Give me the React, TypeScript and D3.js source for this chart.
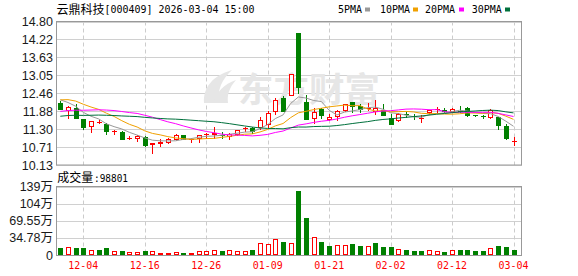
import React from 'react';
import * as d3 from 'd3';

const dates = [
  '12-01','12-02','12-03','12-04','12-05','12-08','12-09','12-10','12-11','12-12',
  '12-15','12-16','12-17','12-18','12-19','12-22','12-23','12-24','12-25','12-26',
  '12-29','12-30','12-31','01-05','01-06','01-07','01-08','01-09','01-12','01-13',
  '01-14','01-15','01-16','01-19','01-20','01-21','01-22','01-23','01-26','01-27',
  '01-28','01-29','01-30','02-02','02-03','02-04','02-05','02-06','02-09','02-10',
  '02-11','02-12','02-13','02-24','02-25','02-26','02-27','03-02','03-03','03-04'
];
const opens = [
  12.16,11.91,12.00,11.62,11.41,11.51,11.46,11.21,11.22,10.98,
  11.02,11.03,10.81,10.82,10.87,10.98,11.10,10.98,11.00,11.12,
  11.11,11.12,11.07,11.14,11.31,11.33,11.38,11.46,11.88,12.32,
  12.42,14.41,12.18,11.64,11.94,11.61,11.72,11.91,12.18,12.05,
  11.96,11.87,11.91,11.66,11.60,11.79,11.73,11.65,11.84,11.94,
  11.92,11.87,11.90,11.99,11.75,11.72,11.69,11.68,11.40,10.88
];
const highs = [
  12.22,12.06,12.11,11.64,11.57,11.58,11.51,11.26,11.23,11.08,
  11.11,11.09,10.86,10.96,11.02,11.14,11.11,11.02,11.10,11.18,
  11.36,11.22,11.16,11.28,11.37,11.36,11.69,11.88,12.31,12.39,
  13.10,14.41,12.40,11.99,11.99,11.79,11.92,12.13,12.18,12.11,
  12.14,12.25,12.11,11.79,11.83,11.84,11.78,11.76,11.92,12.01,
  11.99,11.99,12.05,12.02,11.77,11.76,11.95,11.70,11.47,11.03
];
const lows = [
  11.94,11.67,11.68,11.31,11.22,11.50,11.15,11.15,10.96,10.97,
  10.91,10.76,10.53,10.75,10.84,10.94,10.97,10.89,10.87,11.02,
  11.02,11.00,10.97,11.12,11.24,11.18,11.30,11.38,11.80,11.89,
  12.40,12.48,11.64,11.50,11.67,11.59,11.59,11.90,11.87,11.85,
  11.92,11.79,11.75,11.47,11.55,11.69,11.63,11.52,11.78,11.85,
  11.85,11.84,11.86,11.73,11.72,11.67,11.67,11.31,10.96,10.78
];
const closes = [
  11.96,12.02,11.69,11.35,11.56,11.53,11.22,11.23,10.98,11.00,
  11.09,10.76,10.86,10.88,10.98,11.11,10.98,10.99,11.10,11.14,
  11.16,11.10,11.15,11.27,11.32,11.22,11.60,11.82,12.25,11.91,
  13.10,12.64,11.64,11.85,11.74,11.68,11.88,12.11,12.04,11.95,
  12.00,11.98,11.75,11.48,11.80,11.75,11.71,11.67,11.91,11.96,
  11.87,11.94,11.88,11.77,11.74,11.70,11.91,11.43,11.00,10.91
];
// volume in 万 (10,000 shares)
const volumes = [
  14.3,16.3,14.3,14.3,10.5,10.5,14.0,8.1,8.1,5.8,
  5.8,8.1,8.1,4.1,4.1,6.1,4.1,4.1,8.1,8.1,
  10.2,8.1,10.2,8.1,8.1,10.5,24.1,22.0,32.3,26.9,
  24.1,130.4,76.0,36.7,26.9,18.6,20.0,20.0,22.4,18.3,
  18.3,24.4,16.3,16.3,12.2,10.2,8.1,8.1,9.8,7.8,
  6.1,9.8,10.2,10.2,8.1,8.1,13.8,18.3,16.3,9.8801
];
// closes of the 29 sessions before the window (needed for the moving averages)
const priorCloses = [
  11.30,11.45,11.50,11.40,11.35,11.42,11.48,11.38,11.32,11.40,
  11.50,11.45,11.38,11.42,11.36,11.40,11.55,11.60,11.70,11.64,
  11.95,12.15,12.40,12.45,12.30,12.45,12.30,12.35,12.19
];
const priceTicks = [14.80,14.22,13.63,13.05,12.46,11.88,11.30,10.71,10.13];
const priceTickLabels = ['14.80','14.22','13.63','13.05','12.46','11.88','11.30','10.71','10.13'];
const volTicks = [139.12,104.34,69.56,34.78,0];
const volTickLabels = ['139万','104万','69.55万','34.78万','0'];
const tickDates = ['12-04','12-16','12-26','01-09','01-21','02-02','02-12','03-04'];
const maPeriods = [5,10,20,30];
const maNames = ['5PMA','10PMA','20PMA','30PMA'];
const lastVolumeText = '98801';

const RED = '#ff0000';
const GREEN = '#008000';
const MA_COLORS = ['#999999','#f0a000','#ff00ff','#00703c'];
const MONO = '"DejaVu Sans Mono", "Liberation Mono", monospace';
const CJK = '"Noto Sans CJK SC", sans-serif';
const SANS = '"Liberation Sans", Arial, "Noto Sans CJK SC", sans-serif';

export default function App() {
  const W = 578, H = 276;
  const L = 56, R = 522, T = 21.5, B = 165, VT = 186.5, VB = 255;
  const x = d3.scalePoint<string>().domain(dates).range([60.3, 513.5]);
  const y = d3.scaleLinear().domain([10.13, 14.80]).range([B, T]);
  const yv = d3.scaleLinear().domain([0, 139.12]).range([VB, VT]);
  const all = priorCloses.concat(closes);
  const off = priorCloses.length;
  const mas = maPeriods.map(n => closes.map((_, i) => d3.mean(all.slice(i + off - n + 1, i + off + 1)) as number));
  const line = d3.line<number>().x((_, i) => x(dates[i]) as number).y(d => y(d));
  const crisp = (v: number) => Math.round(v) + 0.5;
  const legendX = [338, 380, 425, 471.7];
  const legendSq = [365, 413, 459, 505];

  return (
    <svg width={W} height={H} style={{ position: 'absolute', left: 0, top: 0, background: '#fff' }}>
      <rect x={0} y={0} width={W} height={H} fill="#fff" />
      {/* title */}
      <text x={56.5} y={13.5} fontFamily={CJK} fontSize={12} fill="#000">云鼎科技</text>
      <text x={104.5} y={13} fontFamily={MONO} fontSize={10.5} fill="#000" textLength={150} lengthAdjust="spacingAndGlyphs">[000409] 2026-03-04 15:00</text>
      {maNames.map((n, k) => (
        <g key={n}>
          <text x={legendX[k]} y={13} fontFamily={MONO} fontSize={10.5} fill="#000" textLength={n.length * 6} lengthAdjust="spacingAndGlyphs">{n}</text>
          <rect x={legendSq[k]} y={7.5} width={5} height={4} fill={MA_COLORS[k]} />
        </g>
      ))}

      {/* price grid */}
      {priceTicks.map((t, k) => (
        <line key={'pg' + k} x1={L} x2={R} y1={crisp(y(t))} y2={crisp(y(t))} stroke="#d0d0d0" />
      ))}
      {tickDates.map(d => (
        <line key={'pv' + d} x1={crisp(x(d) as number)} x2={crisp(x(d) as number)} y1={T} y2={B} stroke="#cccccc" strokeDasharray="4,3" />
      ))}
      {/* watermark */}
      <g fill="#e6e6e6">
        <path d="M204,103 C203,88 212,76 232,70 C222,79 217,90 219,103 Z" />
        <path d="M214,103 C216,92 224,84 236,80 C229,88 227,95 228,103 Z" />
        <text x={238} y={102} fontFamily={CJK} fontSize={34} fontWeight="bold" textLength={142} lengthAdjust="spacingAndGlyphs">东方财富</text>
      </g>
      {priceTicks.map((t, k) => (
        <text key={'pl' + k} x={53} y={y(t)} dy="0.36em" textAnchor="end" fontFamily={SANS} fontSize={12.5} fill="#1a1a1a">{priceTickLabels[k]}</text>
      ))}

      {/* candles */}
      {dates.map((d, i) => {
        const cx = Math.round(x(d) as number);
        const up = closes[i] >= opens[i];
        const color = up ? RED : GREEN;
        const top = y(Math.max(opens[i], closes[i]));
        const bot = y(Math.min(opens[i], closes[i]));
        const h = bot - top;
        return (
          <g key={'c' + i}>
            <line x1={cx + 0.5} x2={cx + 0.5} y1={Math.round(y(highs[i]))} y2={Math.round(y(lows[i])) + 1} stroke={color} />
            {h < 2 ? (
              <rect x={cx - 2} y={Math.round(top)} width={5} height={Math.max(1, Math.round(h))} fill={color} />
            ) : up ? (
              <rect x={cx - 1.5} y={Math.round(top) + 0.5} width={4} height={Math.round(h) - 1 + 1} fill="#fff" stroke={color} />
            ) : (
              <rect x={cx - 2} y={Math.round(top)} width={5} height={Math.round(h) + 1} fill={color} />
            )}
          </g>
        );
      })}
      {/* moving averages */}
      {mas.map((m, k) => (
        <path key={'ma' + k} d={line(m) as string} fill="none" stroke={MA_COLORS[k]} strokeWidth={1} />
      ))}
      {/* price frame */}
      <rect x={L + 0.5} y={T} width={R - L - 1} height={B - T} fill="none" stroke="#999" />

      {/* volume panel */}
      <text x={57.3} y={182} fontFamily={CJK} fontSize={12} fill="#000">成交量</text>
      <text x={94} y={181.5} fontFamily={MONO} fontSize={10.5} fill="#000" textLength={34} lengthAdjust="spacingAndGlyphs">{':' + lastVolumeText}</text>
      {volTicks.map((t, k) => (
        <line key={'vg' + k} x1={L} x2={R} y1={crisp(yv(t))} y2={crisp(yv(t))} stroke="#d0d0d0" />
      ))}
      {tickDates.map(d => (
        <line key={'vv' + d} x1={crisp(x(d) as number)} x2={crisp(x(d) as number)} y1={VT} y2={VB} stroke="#cccccc" strokeDasharray="4,3" />
      ))}
      {volTicks.map((t, k) => (
        <text key={'vl' + k} x={53} y={yv(t)} dy="0.36em" textAnchor="end" fontFamily={SANS} fontSize={12.5} fill="#1a1a1a">{volTickLabels[k]}</text>
      ))}
      {dates.map((d, i) => {
        const cx = Math.round(x(d) as number);
        const prev = i === 0 ? priorCloses[priorCloses.length - 1] : closes[i - 1];
        const up = closes[i] >= prev;
        const top = Math.round(yv(volumes[i]));
        const h = VB - top;
        return up ? (
          h < 3 ? <rect key={'v' + i} x={cx - 2} y={top} width={5} height={h} fill={RED} /> :
          <rect key={'v' + i} x={cx - 1.5} y={top + 0.5} width={4} height={h - 1} fill="#fff" stroke={RED} />
        ) : (
          <rect key={'v' + i} x={cx - 2} y={top} width={5} height={h} fill={GREEN} />
        );
      })}
      <rect x={L + 0.5} y={VT} width={R - L - 1} height={VB - VT + 0.5} fill="none" stroke="#999" />

      {/* x labels */}
      {tickDates.map(d => (
        <text key={'xl' + d} x={x(d) as number} y={269} textAnchor="middle" fontFamily={MONO} fontSize={10.5} fill={RED} textLength={30} lengthAdjust="spacingAndGlyphs">{d}</text>
      ))}
    </svg>
  );
}
